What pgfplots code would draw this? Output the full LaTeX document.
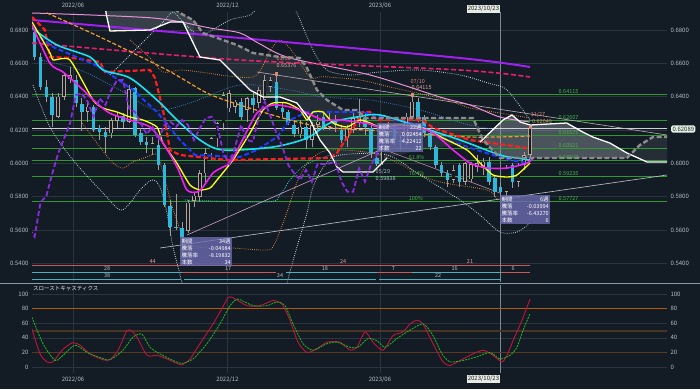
\documentclass[border=0pt]{standalone}
\usepackage{pgfplots}
\pgfplotsset{compat=1.18}
\usepackage{pgfplotstable}
\usepackage{fontspec}
\setmainfont{Noto Sans CJK JP}
\definecolor{bg}{HTML}{131B24}
\definecolor{gridc}{HTML}{2A3540}
\definecolor{txt}{HTML}{B4BCC4}
\definecolor{cursor}{HTML}{7A8894}
\definecolor{fibc}{HTML}{2E9A2E}
\definecolor{fibt}{HTML}{45B845}
\definecolor{candown}{HTML}{2FB8DC}
\definecolor{canup}{HTML}{B8A496}
\definecolor{wick}{HTML}{A09A98}
\definecolor{cloud}{HTML}{A0A8B0}
\definecolor{spanb}{HTML}{8C8C8C}
\definecolor{ma200}{HTML}{A020F0}
\definecolor{pinkl}{HTML}{E891D8}
\definecolor{rosed}{HTML}{E81E6E}
\definecolor{orgd}{HTML}{F09A30}
\definecolor{orgdot}{HTML}{D88A40}
\definecolor{kijun}{HTML}{FF1E1E}
\definecolor{blued}{HTML}{1E3CFF}
\definecolor{bluedot}{HTML}{3A7AB8}
\definecolor{paledot}{HTML}{B8DCE8}
\definecolor{cyandot}{HTML}{40C8D8}
\definecolor{cyanl}{HTML}{14E4F4}
\definecolor{yell}{HTML}{FFFF10}
\definecolor{magl}{HTML}{F020F0}
\definecolor{chik}{HTML}{8A2BE2}
\definecolor{salm}{HTML}{E08878}
\definecolor{tealr}{HTML}{4AB0C0}
\definecolor{redr}{HTML}{C85A5A}
\definecolor{boxc}{HTML}{6C6CB2}
\definecolor{stk}{HTML}{C0143C}
\definecolor{std}{HTML}{20B020}
\definecolor{trend}{HTML}{C0B0B8}
\definecolor{trendw}{HTML}{C4C6CC}
\definecolor{trendp}{HTML}{C8A0C8}
\definecolor{trendq}{HTML}{B090A0}
\definecolor{lowlab}{HTML}{A8C0D0}
\definecolor{brown1}{HTML}{4A3424}
\definecolor{brown2}{HTML}{5A3A1E}
\definecolor{orng80}{HTML}{B05A10}
\definecolor{sepc}{HTML}{8A9AA8}
\definecolor{boxw}{HTML}{E6EBE6}
\definecolor{boxt}{HTML}{1E1E1E}
\definecolor{pricebox}{HTML}{E8F0E8}
\definecolor{pricet}{HTML}{192819}
\definecolor{curl}{HTML}{D0D2D6}

\pgfplotstableread{
n O H L C
0 0.6790 0.6805 0.6620 0.6640
1 0.6640 0.6660 0.6440 0.6460
2 0.6460 0.6500 0.6370 0.6400
3 0.6400 0.6420 0.6217 0.6290
4 0.6280 0.6420 0.6270 0.6400
5 0.6400 0.6540 0.6380 0.6530
6 0.6505 0.6576 0.6480 0.6530
7 0.6500 0.6530 0.6340 0.6360
8 0.6355 0.6390 0.6196 0.6310
9 0.6310 0.6370 0.6250 0.6340
10 0.6340 0.6350 0.6190 0.6200
11 0.6210 0.6230 0.6140 0.6190
12 0.6190 0.6220 0.6061 0.6160
13 0.6180 0.6270 0.6150 0.6260
14 0.6255 0.6300 0.6210 0.6285
15 0.6285 0.6300 0.6210 0.6250
16 0.6250 0.6469 0.6240 0.6445
17 0.6450 0.6460 0.6160 0.6170
18 0.6180 0.6210 0.6110 0.6130
19 0.6130 0.6160 0.6060 0.6110
20 0.6090 0.6160 0.6050 0.6120
21 0.6110 0.6160 0.5960 0.5990
22 0.5990 0.6000 0.5740 0.5750
23 0.5745 0.5780 0.5565 0.5620
24 0.5620 0.5815 0.5600 0.5612
25 0.5612 0.5650 0.5512 0.5560
26 0.5595 0.5780 0.5580 0.5765
27 0.5775 0.5820 0.5740 0.5805
28 0.5800 0.5960 0.5770 0.5940
29 0.5940 0.6090 0.5880 0.6060
30 0.6060 0.6160 0.6020 0.6150
31 0.6150 0.6250 0.6100 0.6240
32 0.6240 0.6430 0.6200 0.6410
33 0.6330 0.6443 0.6310 0.6420
34 0.6340 0.6380 0.6300 0.6370
35 0.6370 0.6390 0.6260 0.6280
36 0.6320 0.6400 0.6250 0.6390
37 0.6390 0.6420 0.6300 0.6350
38 0.6362 0.6460 0.6330 0.6440
39 0.6380 0.6530 0.6360 0.6500
40 0.6460 0.6520 0.6430 0.6500
41 0.6490 0.6538 0.6320 0.6330
42 0.6330 0.6360 0.6280 0.6310
43 0.6310 0.6320 0.6230 0.6240
44 0.6230 0.6260 0.6160 0.6175
45 0.6175 0.6260 0.6150 0.6220
46 0.6220 0.6250 0.6085 0.6140
47 0.6140 0.6250 0.6100 0.6230
48 0.6230 0.6290 0.6180 0.6250
49 0.6278 0.6300 0.6200 0.6220
50 0.6220 0.6300 0.6200 0.6260
51 0.6250 0.6290 0.6190 0.6230
52 0.6200 0.6230 0.6120 0.6140
53 0.6150 0.6230 0.6100 0.6210
54 0.6200 0.6300 0.6180 0.6270
55 0.6240 0.6385 0.6220 0.6280
56 0.6270 0.6300 0.6170 0.6220
57 0.6210 0.6230 0.6030 0.6060
58 0.6030 0.6060 0.5984 0.5998
59 0.6000 0.6130 0.5990 0.6100
60 0.6100 0.6250 0.6090 0.6230
61 0.6230 0.6240 0.6110 0.6140
62 0.6140 0.6170 0.6080 0.6130
63 0.6130 0.6300 0.6110 0.6280
64 0.6280 0.6412 0.6260 0.6370
65 0.6370 0.6390 0.6250 0.6280
66 0.6280 0.6290 0.6160 0.6180
67 0.6180 0.6200 0.6080 0.6100
68 0.6098 0.6110 0.5970 0.5990
69 0.5990 0.6010 0.5920 0.5940
70 0.5940 0.5960 0.5860 0.5900
71 0.5900 0.5990 0.5880 0.5960
72 0.5990 0.6000 0.5860 0.5890
73 0.5890 0.6010 0.5870 0.6000
74 0.5905 0.6010 0.5890 0.5995
75 0.5980 0.6050 0.5950 0.6000
76 0.5975 0.6030 0.5930 0.6010
77 0.6010 0.6040 0.5870 0.5890
78 0.5910 0.5930 0.5800 0.5830
79 0.5857 0.5880 0.5773 0.5830
80 0.5830 0.5990 0.5805 0.5970
81 0.5990 0.6000 0.5850 0.5890
82 0.5890 0.6000 0.5860 0.5990
83 0.5990 0.6070 0.5960 0.6050
84 0.6050 0.6215 0.6030 0.6209
}\candles

\pgfplotstableread{
x y
11.90 0.7000
12.10 0.6902
12.78 0.6794
19.56 0.6800
22.95 0.6848
25.15 0.6848
28.03 0.6638
31.42 0.6620
34.31 0.6518
36.51 0.6440
38.71 0.6398
41.59 0.6398
44.47 0.6362
46.68 0.6260
48.37 0.6140
50.07 0.6062
51.25 0.5978
52.27 0.5948
57.36 0.5948
59.73 0.6032
65.32 0.6080
73.80 0.6122
75.49 0.6128
79.40 0.6260
80.90 0.6290
82.30 0.6248
84.00 0.6230
90.20 0.6242
92.90 0.6188
94.60 0.6158
97.50 0.6122
100.40 0.6062
103.80 0.6008
107.30 0.6008
}\spanA

\pgfplotstableread{
x y
11.90 0.7050
21.25 0.7000
24.64 0.6902
26.85 0.6860
28.54 0.6782
34.31 0.6710
37.02 0.6662
41.59 0.6638
44.98 0.6632
46.17 0.6572
47.86 0.6440
49.56 0.6380
52.27 0.6320
54.64 0.6320
55.99 0.6272
74.30 0.6272
76.00 0.6140
78.88 0.6032
100.40 0.6032
102.60 0.6110
104.80 0.6158
107.30 0.6158
}\spanB

% cloud, top-left part (lighter)
\pgfplotstableread{
x y
11.90 0.7000
12.10 0.6902
12.78 0.6794
19.56 0.6800
22.95 0.6848
25.15 0.6848
27.00 0.6713
27.00 0.6855
26.85 0.6860
24.64 0.6902
21.25 0.7000
11.90 0.7050
}\cloudTL

% cloud where leading span B lies above span A (dim)
\pgfplotstableread{
x y
27.00 0.6713
28.03 0.6638
31.42 0.6620
34.31 0.6518
36.51 0.6440
38.71 0.6398
41.59 0.6398
44.47 0.6362
46.68 0.6260
48.37 0.6140
50.07 0.6062
51.25 0.5978
52.27 0.5948
57.36 0.5948
59.73 0.6032
65.32 0.6080
73.80 0.6122
75.49 0.6128
76.00 0.6142
74.30 0.6272
55.99 0.6272
54.64 0.6320
52.27 0.6320
49.56 0.6380
47.86 0.6440
46.17 0.6572
44.98 0.6632
41.59 0.6638
37.02 0.6662
34.31 0.6710
28.54 0.6782
27.00 0.6855
}\cloudD

\pgfplotstableread{
x y
101.10 0.6052
103.80 0.6008
107.30 0.6008
107.30 0.6158
104.80 0.6158
102.60 0.6110
}\cloudDD

% cloud where span A lies above span B (light)
\pgfplotstableread{
x y
76.00 0.6142
79.40 0.6260
80.90 0.6290
82.30 0.6248
84.00 0.6230
90.20 0.6242
92.90 0.6188
94.60 0.6158
97.50 0.6122
100.40 0.6062
101.10 0.6052
100.40 0.6032
78.88 0.6032
}\cloudL

\pgfplotstableread{
x y
-0.44 52
0.92 18
2.10 7
3.12 7
4.64 23
6.34 33
7.69 30
9.39 18
11.59 10
12.78 10
14.14 23
15.66 50
16.51 49
17.36 41
19.05 16
20.75 16
22.44 11
24.14 5
24.98 3
26.34 11
28.03 32
30.24 59
31.76 80
32.78 95
33.63 95
36.00 84
38.20 84
40.41 91
41.93 86
43.29 64
44.64 34
46.17 20
47.86 25
49.56 34
51.76 34
53.46 23
54.64 27
56.00 48
57.36 34
59.05 23
60.75 43
62.44 48
63.63 59
64.81 64
65.83 59
67.53 32
69.22 7
70.41 2
72.10 9
73.80 16
76.00 23
77.69 16
79.22 7
80.07 16
81.09 36
82.61 64
83.97 93
}\stochK

\pgfplotstableread{
x y
-0.44 68
1.42 32
3.46 9
4.81 16
6.85 30
8.88 20
11.08 13
12.78 10
14.98 23
16.68 41
18.20 45
19.56 27
21.25 18
23.46 9
24.98 5
26.85 11
29.22 32
31.42 59
33.12 84
34.47 93
37.02 84
39.39 84
41.08 89
42.44 84
43.80 59
45.49 32
47.19 23
49.56 32
51.25 34
53.46 27
54.81 27
56.51 39
58.03 36
59.39 27
61.42 39
63.12 48
65.83 59
67.53 43
69.05 18
70.41 7
72.61 9
74.98 14
77.19 20
78.88 11
80.58 16
81.76 27
82.78 50
83.97 73
}\stochD

\pgfplotsset{
  panel/.style={scale only axis, width=635pt, anchor=south west,
    xmin=-0.44, xmax=107.19,
    axis line style={draw=none}, tick style={draw=none},
    tick label style={font=\fontsize{6}{7}\selectfont, text=txt},
    grid style={draw=gridc, line width=0.6pt},
    xtick={6.51,32.69,58.54}, xticklabels={2022/06,2022/12,2023/06}},
  dotl/.style={line width=0.8pt, dash pattern=on 0.8pt off 1.3pt, smooth, tension=0.5},
}
\tikzset{
  boxst/.style={anchor=north west, fill=boxc, fill opacity=0.8, text opacity=1,
    text=white, inner sep=1.5pt, align=left, font=\fontsize{5.5}{7}\selectfont},
  lab/.style={font=\fontsize{5.5}{6}\selectfont, inner sep=0.5pt},
}

\begin{document}
\begin{tikzpicture}[x=1pt,y=1pt]
\fill[bg] (0,0) rectangle (700,389);

% ---------------- main price panel ----------------
\begin{axis}[panel, at={(32pt,107pt)}, height=270pt, ymin=0.5288, ymax=0.6908,
  ytick={0.54,0.56,0.58,0.60,0.62,0.64,0.66,0.68}, scaled y ticks=false,
  yticklabel style={/pgf/number format/.cd, fixed, fixed zerofill, precision=4, assume math mode=true},
  xticklabel pos=upper, xmajorgrids, ymajorgrids,
  extra x ticks={79}, extra x tick labels={},
  extra x tick style={grid style={draw=cursor, line width=0.6pt}}]

% cloud
\addplot[fill=cloud, fill opacity=0.26, draw=none, forget plot] table {\cloudTL} -- cycle;
\addplot[fill=cloud, fill opacity=0.13, draw=none, forget plot] table {\cloudD} -- cycle;
\addplot[fill=cloud, fill opacity=0.13, draw=none, forget plot] table {\cloudDD} -- cycle;
\addplot[fill=cloud, fill opacity=0.40, draw=none, forget plot] table {\cloudL} -- cycle;

% fibonacci levels
\pgfplotsinvokeforeach{0.64115,0.62607,0.61675,0.60921,0.60167,0.59235,0.57727}{
  \addplot[fibc, line width=0.7pt, forget plot] coordinates {(-1,#1) (110,#1)};
}
% current price line
\addplot[curl, line width=0.7pt, forget plot] coordinates {(-1,0.62089) (110,0.62089)};

% trend lines
\addplot[trend, line width=0.6pt, forget plot] coordinates {(37.69,0.6548) (107.19,0.6170)};
\addplot[trendw, line width=0.6pt, forget plot] coordinates {(21.25,0.5492) (107.19,0.5930)};
\addplot[trendp, line width=0.6pt, forget plot] coordinates {(25.83,0.5570) (58.54,0.6080)};
\addplot[trendq, line width=0.6pt, forget plot] coordinates {(58.54,0.6092) (78.88,0.5822)};

% dotted bands
\addplot[paledot, dotl, forget plot] coordinates {(-0.27,0.6470) (2.61,0.6218) (6.51,0.6020) (11.59,0.5822) (14.47,0.5720) (16.17,0.5762) (17.86,0.5840) (19.90,0.5900) (21.25,0.5858) (22.44,0.5702) (23.46,0.5498) (24.98,0.5282) (25.5,0.515)};
\addplot[paledot, dotl, forget plot] coordinates {(42.0,0.515) (42.78,0.5282) (44.47,0.5498) (46.17,0.5702) (47.19,0.5858) (49.22,0.5990) (51.76,0.6050) (59.73,0.6050) (65.32,0.5930) (72.10,0.5780) (75.49,0.5690) (78.88,0.5588) (81.76,0.5588) (83.97,0.5642)};
\addplot[cyandot, dotl, forget plot] coordinates {(25.49,0.5780) (39.39,0.5768) (41.59,0.5810) (43.29,0.5900) (45.83,0.5990) (50.07,0.6050)};
\addplot[orgdot, dotl, forget plot] coordinates {(7.69,0.6260) (11.08,0.6098) (13.29,0.6002) (14.98,0.5972) (16.68,0.6008) (19.05,0.6038) (20.75,0.6050) (22.10,0.5900) (23.80,0.5690) (26.34,0.5510) (33.63,0.5492) (39.22,0.5480) (40.58,0.5510) (42.61,0.5690) (44.64,0.5900) (46.68,0.6020) (50.07,0.6080) (58.54,0.6050) (67.53,0.5900) (76.68,0.5840) (78.88,0.5780) (83.97,0.5810)};
\addplot[orgdot, dotl, forget plot] coordinates {(16.17,0.6740) (19.56,0.6632) (21.76,0.6548) (24.64,0.6560) (28.03,0.6548) (34.31,0.6518) (37.69,0.6530) (40.00,0.6680) (41.59,0.6740) (43.50,0.6680) (46.68,0.6518) (48.88,0.6520) (55.15,0.6500) (60.24,0.6458) (64.81,0.6422) (69.90,0.6380) (73.80,0.6332) (78.88,0.6302) (83.97,0.6272)};
\addplot[bluedot, dotl, forget plot] coordinates {(0.92,0.6620) (7.69,0.6560) (14.47,0.6440) (20.41,0.6320) (26.34,0.6362) (34.81,0.6470) (43.29,0.6440) (48.88,0.6398) (56.85,0.6380) (65.32,0.6320) (73.80,0.6230) (83.97,0.6170)};
\addplot[paledot, dotl, forget plot] coordinates {(12.78,0.6530) (16.17,0.6650) (19.56,0.6770) (22.10,0.6860) (23.46,0.6908) (25.15,0.6848) (27.19,0.6782) (28.88,0.6776) (33.12,0.6860) (36.51,0.6890) (38.54,0.6950) (43.29,0.6970) (44.47,0.6902) (47.19,0.6680) (49.56,0.6560) (53.46,0.6530) (58.54,0.6548) (65.32,0.6560) (72.10,0.6530) (77.00,0.6480) (80.07,0.6440) (83.97,0.6260)};

% candles: wicks
\addplot[forget plot, draw=none, mark=none,
  error bars/.cd, y dir=both, y explicit, error mark=none,
  error bar style={draw=wick, line width=0.6pt, solid}]
  table[x=n, y expr={(\thisrow{H}+\thisrow{L})/2}, y error expr={(\thisrow{H}-\thisrow{L})/2}] {\candles};
% bearish bodies
\addplot[forget plot, draw=none, mark=none,
  restrict expr to domain={\thisrow{O}-\thisrow{C}}{0:1},
  error bars/.cd, y dir=both, y explicit, error mark=none,
  error bar style={draw=candown, line width=3.6pt, solid}]
  table[x=n, y expr={(\thisrow{O}+\thisrow{C})/2}, y error expr={(\thisrow{O}-\thisrow{C})/2}] {\candles};
% bullish bodies (hollow)
\addplot[forget plot, draw=none, mark=none,
  restrict expr to domain={\thisrow{C}-\thisrow{O}}{0:1},
  error bars/.cd, y dir=both, y explicit, error mark=none,
  error bar style={draw=canup, line width=3.6pt, solid}]
  table[x=n, y expr={(\thisrow{O}+\thisrow{C})/2}, y error expr={(\thisrow{C}-\thisrow{O})/2}] {\candles};
\addplot[forget plot, draw=none, mark=none,
  restrict expr to domain={\thisrow{C}-\thisrow{O}}{0.0008:1},
  error bars/.cd, y dir=both, y explicit, error mark=none,
  error bar style={draw=bg, line width=2.3pt, solid}]
  table[x=n, y expr={(\thisrow{O}+\thisrow{C})/2}, y error expr={(\thisrow{C}-\thisrow{O})/2-0.00036}] {\candles};

% long moving averages
\addplot[ma200, line width=2pt, smooth, forget plot] coordinates {(-0.44,0.6860) (34.81,0.6752) (72.10,0.6632) (83.97,0.6578)};
\addplot[pinkl, line width=1pt, smooth, forget plot] coordinates {(-0.44,0.6902) (20.07,0.6872) (29.73,0.6812) (34.81,0.6782) (38.20,0.6716) (43.29,0.6632) (56.85,0.6530) (68.71,0.6398) (73.80,0.6350) (78.88,0.6278) (83.97,0.6248)};
\addplot[rosed, line width=1.6pt, dash pattern=on 5pt off 2.5pt, smooth, forget plot] coordinates {(-0.44,0.6722) (34.81,0.6620) (72.10,0.6560) (83.97,0.6518)};
\addplot[orgd, line width=1.2pt, dash pattern=on 4pt off 2pt, smooth, forget plot] coordinates {(2.10,0.6902) (11.08,0.6758) (22.44,0.6560) (29.22,0.6422) (34.81,0.6350) (43.29,0.6260) (48.88,0.6218) (58.54,0.6194) (73.80,0.6158) (83.97,0.6164)};
% kijun
\addplot[kijun, line width=2.2pt, dash pattern=on 5pt off 2.5pt, forget plot] coordinates {(-0.44,0.6878) (1.76,0.6800) (2.61,0.6638) (6.51,0.6632) (11.08,0.6608) (11.93,0.6548) (19.56,0.6560) (20.41,0.6512) (21.76,0.6320) (22.95,0.6080) (24.64,0.6050) (32.61,0.6020) (50.07,0.6032) (51.25,0.6062) (53.46,0.6182) (55.66,0.6308) (56.85,0.6308) (58.03,0.6260) (65.83,0.6260) (67.53,0.6212) (73.80,0.6140) (83.46,0.6092)};
\addplot[blued, line width=2pt, dash pattern=on 5pt off 2.5pt, forget plot] coordinates {(0.92,0.6758) (3.12,0.6698) (11.08,0.6578) (16.68,0.6440) (20.75,0.6308) (24.64,0.6140) (27.19,0.6050) (34.81,0.6038) (37.69,0.6080) (41.08,0.6158) (43.29,0.6260) (46.17,0.6308) (55.66,0.6308) (58.54,0.6280) (65.32,0.6230) (69.90,0.6140) (76.00,0.6068) (80.58,0.6020) (83.46,0.6002)};
\addplot[cyanl, line width=1.6pt, smooth, forget plot] coordinates {(-0.44,0.6812) (3.80,0.6710) (9.39,0.6638) (11.59,0.6560) (16.17,0.6512) (20.75,0.6380) (24.14,0.6260) (28.03,0.6140) (31.93,0.6080) (40.41,0.6098) (46.17,0.6152) (50.07,0.6242) (54.64,0.6278) (58.54,0.6290) (65.83,0.6212) (72.10,0.6140) (78.88,0.6050) (81.76,0.6032) (83.97,0.6020)};
\addplot[yell, line width=1.3pt, smooth, tension=0.35, forget plot] coordinates {(-0.44,0.6848) (2.61,0.6662) (3.12,0.6620) (6.00,0.6620) (9.90,0.6380) (11.59,0.6332) (13.97,0.6308) (16.17,0.6278) (18.37,0.6260) (20.75,0.6218) (21.76,0.6122) (24.14,0.6000) (26.34,0.5870) (28.03,0.5840) (29.73,0.5852) (30.92,0.5900) (33.63,0.6020) (36.51,0.6182) (38.71,0.6320) (40.41,0.6362) (42.78,0.6362) (44.98,0.6320) (46.17,0.6260) (47.19,0.6308) (48.88,0.6308) (50.58,0.6242) (52.95,0.6218) (55.15,0.6260) (56.85,0.6242) (58.54,0.6218) (61.93,0.6230) (65.83,0.6212) (69.22,0.6152) (73.29,0.6080) (75.49,0.6002) (77.69,0.5930) (80.07,0.5918) (81.76,0.5930) (83.97,0.6002)};
\addplot[magl, line width=1.6pt, smooth, tension=0.45, forget plot] coordinates {(-0.44,0.6830) (2.61,0.6600) (4.81,0.6548) (7.69,0.6458) (10.58,0.6360) (12.78,0.6300) (16.17,0.6260) (19.56,0.6218) (21.76,0.6122) (24.14,0.5978) (25.83,0.5840) (27.53,0.5828) (28.54,0.5858) (30.24,0.5942) (31.93,0.5978) (33.12,0.6002) (34.81,0.6110) (37.69,0.6302) (40.41,0.6350) (43.29,0.6338) (46.17,0.6302) (48.88,0.6260) (51.76,0.6260) (54.64,0.6248) (56.85,0.6236) (58.54,0.6218) (66.51,0.6200) (70.92,0.6080) (73.80,0.6002) (76.68,0.5972) (80.07,0.5972) (83.46,0.6002) (84.48,0.6032)};

% cloud spans visible
\addplot[white, line width=1.3pt, restrict x to domain=11:60, forget plot] table {\spanA};
\addplot[white, line width=1.3pt, restrict x to domain=75:108, forget plot] table {\spanA};
\addplot[spanb, line width=2.4pt, dash pattern=on 5pt off 2.5pt, forget plot] table {\spanB};

% lagging span (close shifted 25 weeks back)
\addplot[chik, line width=1.8pt, dash pattern=on 5pt off 2.5pt, restrict x to domain=-2:110, forget plot] table[x expr={\thisrow{n}-25}, y=C] {\candles};

% high markers
\addplot[only marks, mark=square*, mark size=1.1pt, color=salm, forget plot] coordinates {(41,0.6538) (64,0.6412) (84,0.6215)};

% bottom count rows
\addplot[redr, line width=0.8pt, forget plot] coordinates {(-0.44,0.5390) (84,0.5390)};
\addplot[tealr, line width=0.8pt, forget plot] coordinates {(-0.44,0.5348) (25,0.5348)};
\addplot[redr, line width=0.8pt, forget plot] coordinates {(25,0.5348) (41,0.5348)};
\addplot[tealr, line width=0.8pt, forget plot] coordinates {(42.6,0.5348) (58,0.5348)};
\addplot[redr, line width=0.8pt, forget plot] coordinates {(58,0.5348) (64,0.5348)};
\addplot[tealr, line width=0.8pt, forget plot] coordinates {(64,0.5348) (79,0.5348)};
\addplot[redr, line width=0.8pt, forget plot] coordinates {(79,0.5348) (84,0.5348)};
\addplot[tealr, line width=0.8pt, forget plot] coordinates {(-0.44,0.5306) (24.8,0.5306)};
\addplot[tealr, line width=0.8pt, forget plot] coordinates {(25.3,0.5306) (57.8,0.5306)};
\addplot[tealr, line width=0.8pt, forget plot] coordinates {(58.3,0.5306) (79,0.5306)};
\node[lab, text=salm!80!white] at (axis cs:20.0,0.5410) {44};
\node[lab, text=salm!80!white] at (axis cs:52.3,0.5410) {24};
\node[lab, text=salm!80!white] at (axis cs:73.8,0.5410) {21};
\node[lab, text=txt] at (axis cs:12.3,0.5368) {28};
\node[lab, text=txt] at (axis cs:32.8,0.5368) {17};
\node[lab, text=txt] at (axis cs:49.2,0.5368) {18};
\node[lab, text=txt] at (axis cs:60.8,0.5368) {7};
\node[lab, text=txt] at (axis cs:71.2,0.5368) {16};
\node[lab, text=txt] at (axis cs:81.1,0.5368) {6};
\node[lab, text=txt] at (axis cs:12.3,0.5326) {38};
\node[lab, text=txt] at (axis cs:41.6,0.5326) {34};
\node[lab, text=txt] at (axis cs:68.4,0.5326) {22};

% fibonacci labels
\node[lab, text=fibt, anchor=south west] at (axis cs:88.7,0.64115) {0.64115};
\node[lab, text=fibt, anchor=south west] at (axis cs:88.7,0.62607) {0.62607};
\node[lab, text=fibt, anchor=south west] at (axis cs:88.7,0.61675) {0.61675};
\node[lab, text=fibt, anchor=south west] at (axis cs:88.7,0.60921) {0.60921};
\node[lab, text=fibt, anchor=south west] at (axis cs:88.7,0.60167) {0.60167};
\node[lab, text=fibt, anchor=south west] at (axis cs:88.7,0.59235) {0.59235};
\node[lab, text=fibt, anchor=south west] at (axis cs:88.7,0.57727) {0.57727};
\node[lab, text=fibt, anchor=south west] at (axis cs:63.3,0.60167) {61.8\%};
\node[lab, text=fibt, anchor=south west] at (axis cs:63.3,0.59235) {76.4\%};
\node[lab, text=fibt, anchor=south west] at (axis cs:63.3,0.57727) {100\%};

% pivot labels
\node[lab, text=salm, anchor=west] at (axis cs:40.9,0.6626) {01/30};
\node[lab, text=salm!70!white, anchor=west] at (axis cs:40.9,0.6584) {0.65376};
\node[lab, text=salm, anchor=west] at (axis cs:63.6,0.6488) {07/10};
\node[lab, text=salm!70!white, anchor=west] at (axis cs:63.8,0.6452) {0.64115};
\node[lab, text=lowlab, anchor=west] at (axis cs:57.7,0.5948) {05/29};
\node[lab, text=lowlab, anchor=west] at (axis cs:57.7,0.5906) {0.59838};
\node[lab, text=salm, anchor=west] at (axis cs:84.0,0.6290) {11/27};
\node[lab, text=salm, anchor=west] at (axis cs:84.2,0.6248) {0.62049};

% measurement boxes
\node[boxst, text width=49pt] at (axis cs:24.64,0.5558) {期間\hfill 34週\\騰落\hfill -0.04984\\騰落率\hfill -8.19832\\本数\hfill 34};
\node[boxst, text width=43pt] at (axis cs:58.03,0.6242) {期間\hfill 22週\\騰落\hfill 0.02454\\騰落率\hfill 4.22412\\本数\hfill 22};
\node[boxst, text width=47pt] at (axis cs:78.88,0.5810) {期間\hfill 6週\\騰落\hfill -0.03994\\騰落率\hfill -6.43270\\本数\hfill 6};
\end{axis}

% right-side price labels (0.6200 is hidden under the current-price box)
\begin{axis}[panel, at={(32pt,107pt)}, height=270pt, ymin=0.5288, ymax=0.6908,
  ytick={0.54,0.56,0.58,0.60,0.64,0.66,0.68}, scaled y ticks=false, xtick=\empty,
  yticklabel pos=right,
  yticklabel style={/pgf/number format/.cd, fixed, fixed zerofill, precision=4, assume math mode=true}]
\addplot[draw=none] coordinates {(0,0.60)};
\end{axis}

% ---------------- stochastic panel ----------------
\begin{axis}[panel, at={(32pt,16pt)}, height=88pt, ymin=-8.2, ymax=112.3,
  ytick={0,20,40,60,80,100}, xmajorgrids, ymajorgrids,
  yticklabel style={/pgf/number format/assume math mode=true},
  extra x ticks={79}, extra x tick labels={},
  extra x tick style={grid style={draw=cursor, line width=0.6pt}}]
\addplot[brown1, line width=2.2pt, forget plot] coordinates {(-1,49) (110,49)};
\addplot[brown2, line width=1.4pt, forget plot] coordinates {(-1,20) (110,20)};
\addplot[orng80, line width=0.9pt, forget plot] coordinates {(-1,80) (110,80)};
\addplot[stk, line width=0.9pt, smooth, tension=0.4] table {\stochK};
\addplot[std, line width=0.9pt, dash pattern=on 2pt off 1pt, smooth, tension=0.4] table {\stochD};
\end{axis}
\begin{axis}[panel, at={(32pt,16pt)}, height=88pt, ymin=-8.2, ymax=112.3,
  ytick={0,20,40,60,80,100}, xtick=\empty, yticklabel pos=right,
  yticklabel style={/pgf/number format/assume math mode=true}]
\addplot[draw=none] coordinates {(0,50)};
\end{axis}

% separator, date boxes, price box, panel title
\draw[sepc, line width=0.6pt] (0,106) -- (700,106);
\node[anchor=east, fill=boxw, text=boxt, inner sep=1.2pt, font=\fontsize{6}{7}\selectfont] at (500.5,380) {2023/10/23};
\node[anchor=east, fill=boxw, text=boxt, inner sep=1.2pt, font=\fontsize{6}{7}\selectfont] at (500.5,10) {2023/10/23};
\node[anchor=west, fill=pricebox, rounded corners=1.5pt, text=pricet, inner sep=1.3pt, font=\fontsize{6}{7}\selectfont] at (671,260) {0.62089};
\node[anchor=west, text=white!85!gray, inner sep=0pt, font=\fontsize{5.5}{6}\selectfont] at (33,100) {スローストキャスティクス};
\pgfresetboundingbox
\path[use as bounding box] (0,0) rectangle (700,389);
\end{tikzpicture}
\end{document}
